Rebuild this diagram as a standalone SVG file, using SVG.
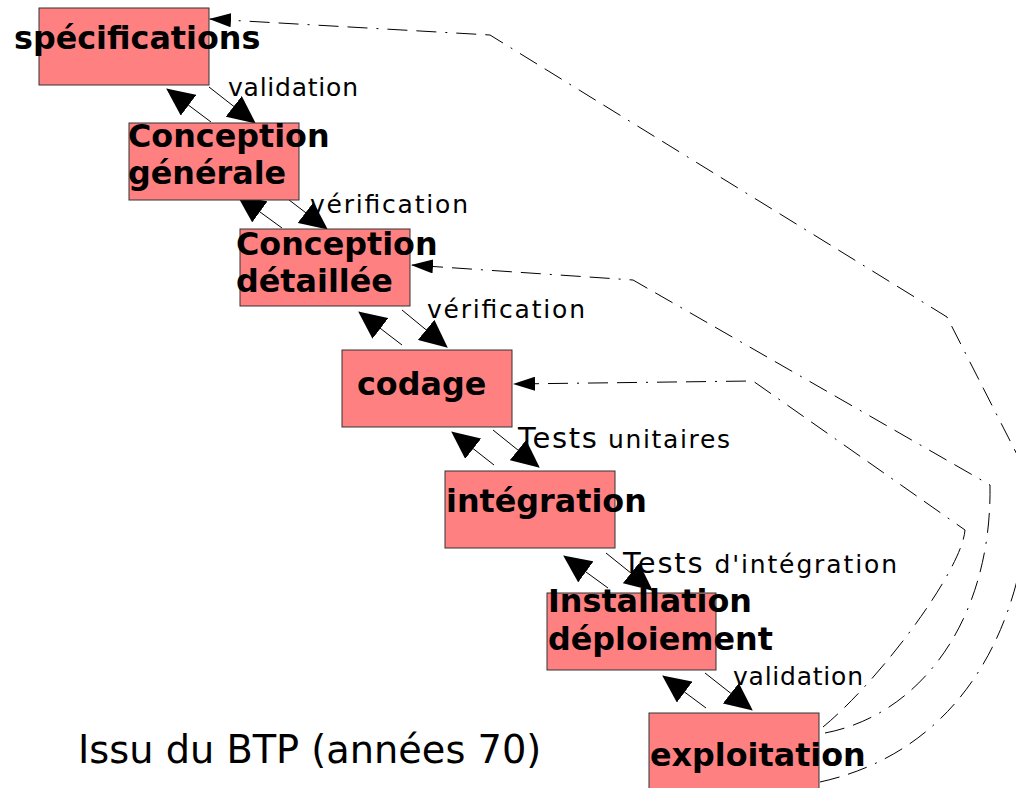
<svg xmlns="http://www.w3.org/2000/svg" width="1016" height="788" viewBox="0 0 1016 788">
<style>
.box{fill:#ff8080;stroke:#333;stroke-width:1}
.bt{font-family:"DejaVu Sans",sans-serif;font-weight:bold;font-size:31.8px;fill:#000}
.lb{font-family:"DejaVu Sans",sans-serif;font-size:25px;fill:#000}
.big{font-size:29px}
.ar{stroke:#000;stroke-width:1;fill:none;marker-end:url(#big)}
.fb{stroke:#000;stroke-width:1;fill:none;stroke-dasharray:20,9,20,9,2,9;marker-end:url(#small)}
</style>
<defs>
<marker id="big" markerUnits="userSpaceOnUse" markerWidth="28" markerHeight="26" refX="27" refY="13" orient="auto" viewBox="0 0 28 26">
<path d="M0,0 L28,13 L0,26 z" fill="#000"/>
</marker>
<marker id="small" markerUnits="userSpaceOnUse" markerWidth="22" markerHeight="14" refX="22" refY="7" orient="auto" viewBox="0 0 22 14">
<path d="M0,0 L22,7 L0,14 z" fill="#000"/>
</marker>
</defs>
<g id="connectors">
<path class="ar" d="M209,87 L255,123"/>
<path class="ar" d="M211,122 L167,89"/>
<path class="ar" d="M280,193 L327,229"/>
<path class="ar" d="M282,228 L238,196"/>
<path class="ar" d="M402,310 L447,347"/>
<path class="ar" d="M402,345 L359,312"/>
<path class="ar" d="M493,430 L539,467"/>
<path class="ar" d="M494,465 L452,432"/>
<path class="ar" d="M606,553 L652,590"/>
<path class="ar" d="M608,588 L564,556"/>
<path class="ar" d="M705,673 L752,710"/>
<path class="ar" d="M706,708 L663,676"/>
<path class="fb" d="M820,782 C965,750 1028,620 1030,480 L947,317 L490,35 L209,19"/>
<path class="fb" d="M825,733 C920,715 992,620 990,485 L633,280 L411,265"/>
<path class="fb" d="M823,727 C880,680 962,570 965,530 L753,381 L513,384"/>
<text class="lb" x="228" y="96" textLength="130">validation</text>
<text class="lb" x="310" y="213" textLength="158">vérification</text>
<text class="lb" x="427" y="318" textLength="158">vérification</text>
<text class="lb" x="518" y="448" textLength="212"><tspan class="big">Tests</tspan> unitaires</text>
<text class="lb" x="623" y="573" textLength="274"><tspan class="big">Tests</tspan> d'intégration</text>
<text class="lb" x="733" y="685" textLength="130">validation</text>
</g>
<g id="n1"><rect class="box" x="39" y="8" width="170" height="77"/><text class="bt" x="14" y="49">spécifications</text></g>
<g id="n2"><rect class="box" x="129" y="123" width="170" height="77"/><text class="bt" x="128" y="147">Conception</text><text class="bt" x="128" y="184">générale</text></g>
<g id="n3"><rect class="box" x="240" y="229" width="170" height="77"/><text class="bt" x="236" y="255">Conception</text><text class="bt" x="236" y="292">détaillée</text></g>
<g id="n4"><rect class="box" x="342" y="350" width="170" height="77"/><text class="bt" x="357" y="395">codage</text></g>
<g id="n5"><rect class="box" x="445" y="471" width="170" height="77"/><text class="bt" x="446" y="512">intégration</text></g>
<g id="n6"><rect class="box" x="547" y="593" width="169" height="77"/><text class="bt" x="548" y="612">Installation</text><text class="bt" x="548" y="650">déploiement</text></g>
<g id="n7"><rect class="box" x="649" y="713" width="170" height="80"/><text class="bt" x="650" y="766">exploitation</text></g>
<text x="78" y="763" font-family="DejaVu Sans, sans-serif" font-size="38.3" fill="#000">Issu du BTP (années 70)</text>
</svg>
